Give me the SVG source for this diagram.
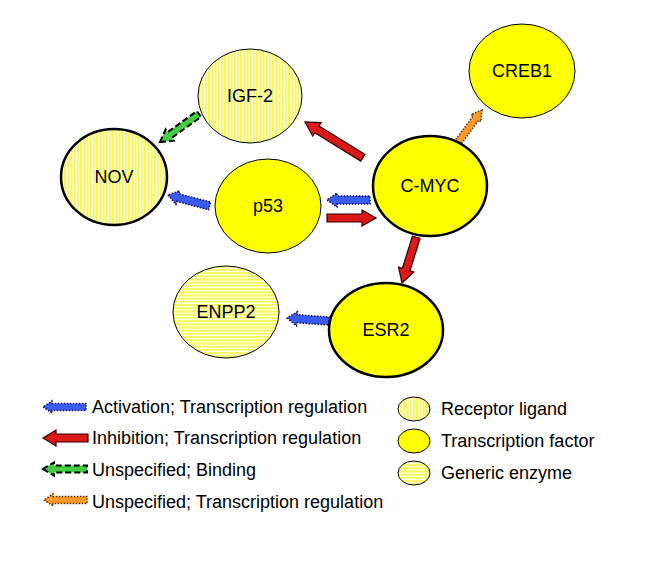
<svg xmlns="http://www.w3.org/2000/svg" width="646" height="567" viewBox="0 0 646 567">
<style>
text{font-family:"Liberation Sans",Arial,sans-serif;font-size:18px;fill:#000}
.lbl{text-anchor:middle}
.thin{stroke:#000;stroke-width:1}
.thick{stroke:#000;stroke-width:2.5}
.tf{fill:#ffff00}
.rl{fill:url(#vstripe)}
.ge{fill:url(#hstripe)}
.act{fill:#3a5cf0;stroke:#101060;stroke-width:1.5;stroke-dasharray:1.5 1.5}
.inh{fill:#dd1818;stroke:#300;stroke-width:1.2}
.bind{fill:#44cc44;stroke:#000;stroke-width:2;stroke-dasharray:6 3}
.unsp{fill:#ff9a2a;stroke:#503000;stroke-width:1.5;stroke-dasharray:1.5 1.5}
</style>
<defs>
<pattern id="vstripe" width="3.2" height="10" patternUnits="userSpaceOnUse">
<rect width="3.2" height="10" fill="#f7f764"/>
<rect x="2.2" width="1" height="10" fill="#ffffff"/>
</pattern>
<pattern id="hstripe" width="10" height="3.2" patternUnits="userSpaceOnUse">
<rect width="10" height="3.2" fill="#f7f764"/>
<rect y="2.2" width="10" height="1" fill="#ffffff"/>
</pattern>
</defs>
<rect width="646" height="567" fill="#fff"/>

<g id="connectors">
<g transform="translate(160,142) rotate(144.3)"><polygon class="bind" points="0,0 -12,-7 -12,-3.5 -48,-3.5 -48,3.5 -12,3.5 -12,7"/></g>
<g transform="translate(168,195) rotate(-165.3)"><polygon class="act" points="0,0 -10,-7 -10,-4 -43,-4 -43,4 -10,4 -10,7"/></g>
<g transform="translate(305,122) rotate(-148.3)"><polygon class="inh" points="0,0 -14,-8 -14,-4 -68,-4 -68,4 -14,4 -14,8"/></g>
<g transform="translate(327,200) rotate(180)"><polygon class="act" points="0,0 -10,-7 -10,-4 -43,-4 -43,4 -10,4 -10,7"/></g>
<g transform="translate(376,218) rotate(0)"><polygon class="inh" points="0,0 -14,-8 -14,-4 -49,-4 -49,4 -14,4 -14,8"/></g>
<g transform="translate(482,110) rotate(-53.4)"><polygon class="unsp" points="0,0 -10,-6 -10,-3.5 -44,-3.5 -44,3.5 -10,3.5 -10,6"/></g>
<g transform="translate(402,283) rotate(107.3)"><polygon class="inh" points="0,0 -14,-8 -14,-4 -48,-4 -48,4 -14,4 -14,8"/></g>
<g transform="translate(287,318) rotate(-175.9)"><polygon class="act" points="0,0 -10,-7 -10,-4 -42,-4 -42,4 -10,4 -10,7"/></g>
</g>

<g id="IGF-2"><ellipse class="rl thin" cx="250" cy="96" rx="52" ry="47"/><text class="lbl" x="250" y="102">IGF-2</text></g>
<g id="NOV"><ellipse class="rl thick" cx="114" cy="177" rx="53" ry="48"/><text class="lbl" x="114" y="183">NOV</text></g>
<g id="p53"><ellipse class="tf thin" cx="268" cy="206" rx="53" ry="47"/><text class="lbl" x="268" y="212">p53</text></g>
<g id="C-MYC"><ellipse class="tf thick" cx="430" cy="186" rx="57" ry="50"/><text class="lbl" x="430" y="192">C-MYC</text></g>
<g id="CREB1"><ellipse class="tf thin" cx="522" cy="71" rx="53" ry="47"/><text class="lbl" x="522" y="77">CREB1</text></g>
<g id="ESR2"><ellipse class="tf thick" cx="386" cy="330" rx="57" ry="47"/><text class="lbl" x="386" y="336">ESR2</text></g>
<g id="ENPP2"><ellipse class="ge thin" cx="226" cy="312" rx="53" ry="46"/><text class="lbl" x="226" y="318">ENPP2</text></g>

<g id="legend">
<g transform="translate(43,407) rotate(180)"><polygon class="act" points="0,0 -9,-6 -9,-3.5 -43,-3.5 -43,3.5 -9,3.5 -9,6"/></g>
<g transform="translate(43,438) rotate(180)"><polygon class="inh" points="0,0 -13,-8 -13,-4 -45,-4 -45,4 -13,4 -13,8"/></g>
<g transform="translate(43,469) rotate(180)"><polygon class="bind" points="0,0 -11,-6.5 -11,-3.5 -44,-3.5 -44,3.5 -11,3.5 -11,6.5"/></g>
<g transform="translate(44,500) rotate(180)"><polygon class="unsp" points="0,0 -9,-6 -9,-3.5 -43,-3.5 -43,3.5 -9,3.5 -9,6"/></g>
<text x="92" y="413">Activation; Transcription regulation</text>
<text x="92" y="444">Inhibition; Transcription regulation</text>
<text x="92" y="476">Unspecified; Binding</text>
<text x="92" y="508">Unspecified; Transcription regulation</text>
<ellipse class="rl thin" cx="414" cy="409" rx="16" ry="12"/>
<ellipse class="tf thin" cx="414" cy="441" rx="16" ry="12"/>
<ellipse class="ge thin" cx="414" cy="473" rx="16" ry="12"/>
<text x="441" y="415">Receptor ligand</text>
<text x="441" y="447">Transcription factor</text>
<text x="441" y="479">Generic enzyme</text>
</g>
</svg>
